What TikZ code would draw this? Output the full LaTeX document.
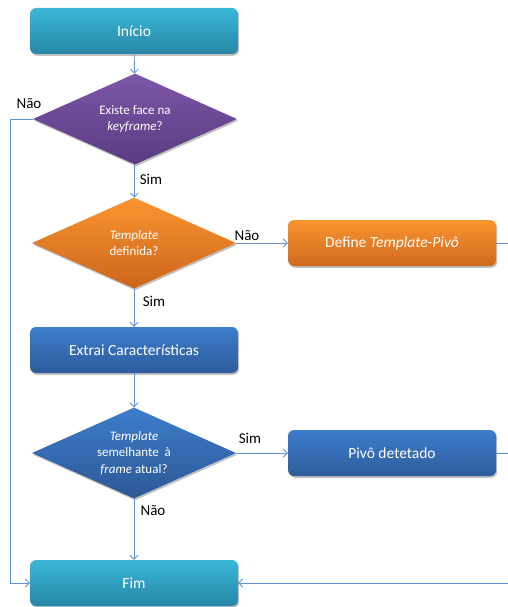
\documentclass[tikz,border=0pt]{standalone}
\usepackage{fontspec}
\setmainfont{Carlito}
\usetikzlibrary{shapes.geometric,arrows.meta,shadows,calc}
\begin{document}
\begin{tikzpicture}[x=1pt,y=-1pt,
  softshadow/.style={drop shadow={shadow xshift=1.2pt,shadow yshift=-1.8pt,opacity=0.35,fill=black!70}},
  boxbase/.style={rectangle,rounded corners=6pt,minimum width=208pt,minimum height=46pt,
    text=white,font=\fontsize{15.5}{18}\selectfont,inner sep=0pt,softshadow},
  cyanbox/.style={boxbase,top color={rgb,255:red,58;green,183;blue,216},bottom color={rgb,255:red,40;green,134;blue,165}},
  orangebox/.style={boxbase,top color={rgb,255:red,250;green,148;blue,48},bottom color={rgb,255:red,207;green,106;blue,30}},
  bluebox/.style={boxbase,top color={rgb,255:red,61;green,125;blue,202},bottom color={rgb,255:red,46;green,92;blue,156}},
  decide/.style={diamond,minimum width=204pt,minimum height=91pt,inner sep=0pt,aspect=2.2,
    text=white,font=\fontsize{13}{16.5}\selectfont,align=center,softshadow},
  purpledia/.style={decide,top color={rgb,255:red,125;green,86;blue,168},bottom color={rgb,255:red,88;green,60;blue,128}},
  orangedia/.style={decide,top color={rgb,255:red,250;green,148;blue,48},bottom color={rgb,255:red,204;green,102;blue,28}},
  bluedia/.style={decide,top color={rgb,255:red,61;green,125;blue,202},bottom color={rgb,255:red,44;green,88;blue,150}},
  flow/.style={draw={rgb,255:red,98;green,145;blue,208},line width=0.8pt,-{Straight Barb[length=4pt,width=8pt]}},
  link/.style={draw={rgb,255:red,98;green,145;blue,208},line width=0.8pt},
  lbl/.style={font=\fontsize{15}{17}\selectfont,text=black,inner sep=0pt}]
\useasboundingbox (0,0) rectangle (508,607);

% main column
\node[cyanbox] (start) at (134,31) {Início};
\node[purpledia] (face) at (135,119) {Existe face na\\\textit{keyframe}?};
\node[orangedia] (tmpl) at (134,243) {\textit{Template}\\definida?};
\node[orangebox] (define) at (392,243) {Define \textit{Template-Pivô}};
\node[bluebox] (extract) at (134,350) {Extrai Características};
\node[bluedia] (match) at (134,453) {\textit{Template}\\semelhante~~à\\\textit{frame} atual?};
\node[bluebox] (pivot) at (392,453) {Pivô detetado};
\node[cyanbox] (finish) at (134,583) {Fim};

% branch labels
\node[lbl] (l1) at (29,104) {Não};
\node[lbl] (l2) at (151,179) {Sim};
\node[lbl] (l3) at (247,236) {Não};
\node[lbl] (l4) at (154,301) {Sim};
\node[lbl] (l5) at (250,438) {Sim};
\node[lbl] (l6) at (153,511) {Não};

% right-hand returns leave the frame
\coordinate (edgeA) at (508,243);
\coordinate (edgeB) at (508,453);
\coordinate (edgeC) at (508,583);
\coordinate (leftrail) at (10,0);

% connectors
\draw[flow] (start) -- (face);
\draw[flow] (face) -- (tmpl);
\draw[flow] (tmpl) -- (extract);
\draw[flow] (extract) -- (match);
\draw[flow] (match) -- (finish);
\draw[flow] (tmpl.east) -- (define.west);
\draw[flow] (match.east) -- (pivot.west);
\draw[flow] (face.west) -- (leftrail |- face.west) -- (leftrail |- finish.west) -- (finish.west);
\draw[link] (define.east) -- (edgeA);
\draw[link] (pivot.east) -- (edgeB);
\draw[flow] (edgeC) -- (finish.east);
\end{tikzpicture}
\end{document}
